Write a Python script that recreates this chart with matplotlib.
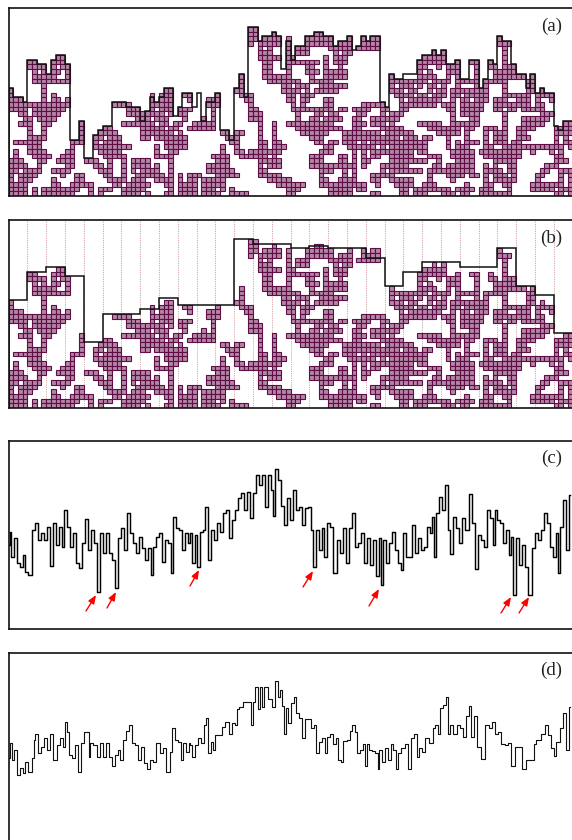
import numpy as np
import matplotlib
matplotlib.use("Agg")
import matplotlib.pyplot as plt

OCCUPIED = {
35:"51-52",
34:"51-52 56 65-66",
33:"51-52 54-57 59 63-68 72 75 77-78 104",
32:"51 53-57 59 63-68 70-72 75-78 104-106",
31:"53 55 59 61-63 68-72 74-78 105",
30:"53-55 59 61-63 69 71-72 90 92 105",
29:"10-11 53-57 59-60 67 69-71 88-92 105",
28:"4-5 9-11 54-55 59-65 67 69-71 87-92 95 98-99 102 105",
27:"4-7 9 11-12 54-55 59 63-64 67 70 87-88 91 93-95 99 102-103 105-107",
26:"5 7 9-10 12 54-55 59 63-65 67-71 87 89 93-95 99 103-107",
25:"5-9 12 49 54-59 64 67-71 81 87-90 93 95 99 103-109 111",
24:"5-12 49 55-61 64-68 81-88 90-93 95-99 101-105 110-111",
23:"7 49 58-59 61-63 66-71 81 83-85 87 89-90 92 95 99 101 105 110-111",
22:"0 7 33-34 48-49 58-61 63 65-69 81-83 85-86 89 91-92 94-101 105 110-111 113",
21:"0 7 9 30 32-34 37-38 44 49-51 59-60 62-64 82-85 87-88 90-92 94-95 97-101 105-110 112-115",
20:"0-2 7 9-10 12 30 32-34 38 42-44 50-51 59-60 62-63 67-68 83 85-91 94 96-97 99-101 103-105 108-110 112 115",
19:"0-12 22-25 30-34 42-44 51 60 62 67-68 75-79 83-90 92-94 96-100 103-110 112-113",
18:"0-3 5-11 25-27 30 32-34 36-38 43 51-52 60-68 70-71 73-76 79-80 83-84 93-94 96-100 103-104 106-107 109-113",
17:"2-3 5-10 25-32 34 36-37 43 51-53 61 65-66 68-69 74-75 79 81-83 94 96-99 105 113-115",
16:"3-4 6-9 27-29 31-33 37 41 43 51-53 61 64-65 67-70 73-74 77-82 94 98-99 105 109-114",
15:"2-4 7-8 15 24-30 32-33 35-36 39-43 53 56 59-68 73-75 77-79 81 87-91 94-99 105 109-113 118-119",
14:"4 7 15 20-21 28-32 34-35 38-43 53 56 61-70 73-74 79-83 89-95 97-98 101-103 105 108-111 116-119",
13:"4 7 15 19-22 28-34 36 45-46 48-49 53 56 62-67 71-78 80-85 91-95 97 101 103-105 108-109 116-119",
12:"4-7 15 18-19 21-23 28-29 31-37 46-48 53 56 64-66 71-82 84-86 88-89 93 97 101 103-105 108-110 116 118",
11:"1-6 13-15 18 20-23 33-37 47-48 53-54 56-57 65-66 68-69 71-73 75 77-88 93 95 97-99 101 103-105 107-108 116 118-119",
10:"4-6 13 18-25 31 33-37 45 48 53-54 56-58 67-68 72-77 79 81-88 93 95-97 101-102 105-117 119",
9:"1 4-7 12-13 19-23 31 34-35 45 48-49 51-57 66-68 73 75 77-85 87-88 94-98 100-108 111 115 117",
8:"1 5-8 11-13 20-24 31-34 43-46 49-54 56 64-66 70-71 73 75 77-78 81-85 89-91 94-98 101-108 116-117",
7:"0-2 6-7 10-13 16-18 21 24 26-29 34 44-46 53-57 64-66 70-71 73 75-76 81-88 91 95-98 103-107 116-118",
6:"0-3 6 12-13 18-19 21 24 26-29 31 34 42-46 53 55-57 64-73 75 79-84 90-91 93-98 101 103 106-107 114-116",
5:"0-1 3-6 9-12 19-21 24 26 28-31 34 42-47 53-54 66-68 71 73 79 81-87 89-98 101-104 106-107 113-114 117-119",
4:"0 2-5 11 14-15 20-21 24 27-32 34 36 38-40 44-48 53-57 66 71 73 77-81 89 93-96 98-99 101 103-105 107 112-113 117 119",
3:"0 2-4 9 14-15 21-24 26-28 31-34 36 38-39 41-45 55-59 66-67 70-73 77-78 81-85 89 94 101 103-107 112 117 119",
2:"0-3 9-10 13-17 22-23 25-29 33-34 36-39 41-45 57-62 66-75 78 82-85 88-90 97 101-102 105-106 111-117 119",
1:"0-3 5 7-14 17 19-21 24-28 34 36-39 41-43 45 47 59-61 68-72 74-75 83-84 86-93 95-98 100-102 106 111-115 117-119",
0:"0-3 5 7-13 17 19 24-27 29 33-34 36-39 41-44 47-50 59-60 68-72 77-78 83-84 86-88 92-94 96-97 100-106 116-117 119",
}

# column skyline of panel (a)
SKYLINE_A = [23,21,21,20,29,29,28,28,26,29,30,30,28,12,12,16,8,8,13,14,15,15,20,20,20,19,19,19,16,18,
             21,20,21,23,23,17,19,22,22,19,22,16,20,20,22,14,14,12,23,26,21,36,36,33,34,34,35,34,27,33,
             29,32,32,34,34,35,35,34,34,32,33,33,34,31,32,34,33,34,34,20,19,26,25,25,26,26,26,29,30,30,
             31,30,31,28,28,29,25,25,29,29,23,25,29,28,34,33,33,28,26,26,23,26,22,23,22,22,15,14,16,16]
# four-column block skyline of panel (b)
SKYLINE_B = [23,29,30,28,14,20,20,21,23.5,22,22,22,36,35,35,34,34.5,34,34,32,26,29,31,31,30,30,34,26,24,16]

# panel (c): (x, y) as read, three stretches
C1_X = [27,30,37,45,54,63,72,80,90,99,108,117,126,135,144,153,162,171,180,189,196,205,214,223,232,241,250,259,268,277,286,295,304,313,322,331,340,350,359,368,377,386,395,404,413,422,431,440,449,455,464,473,482,491,500,509,516,522,531,540,549,558,567]
C1_Y = [345,305,380,325,400,410,375,425,435,300,280,330,310,330,290,408,280,345,290,350,240,290,350,310,400,415,340,268,360,300,340,485,310,370,310,370,390,475,325,295,360,250,310,340,370,320,355,390,355,435,350,320,310,395,330,340,428,260,295,300,360,310,340]
C2_X = [0,9,18,24,33,42,48,57,66,75,84,93,102,111,120,129,138,147,156,165,174,183,192,201,210,219,228,237,246,249,259,268,277,286,295,304,313,322,331,340,349,358,366,372,381,390,399,405,414,423,435,444,453,462,471,480,489,498,507,516,525,534,543,552,564]
C2_Y = [310,400,315,410,305,300,230,390,300,330,280,305,250,240,325,270,240,205,190,240,185,265,190,135,165,135,230,135,180,258,118,150,228,285,205,270,180,240,230,285,235,232,300,410,300,360,295,380,280,290,428,330,370,295,400,295,250,350,340,310,400,325,405,330,438]
C3_X = [0,4,13,22,31,40,49,58,65,74,83,92,101,110,119,128,137,146,155,158,164,173,182,191,200,207,215,224,233,242,251,260,272,281,290,299,308,317,325,333,342,345,354,363,372,381,390,396,404,413,422,431,440,450,459,468,477,486,495,504,513,522,531,535,544,553,562,571]
C3_Y = [325,465,330,400,340,305,360,400,420,310,380,380,285,370,325,360,350,290,310,260,380,250,200,240,165,300,372,260,295,340,265,300,192,280,418,315,330,350,240,265,345,240,270,280,340,300,375,320,495,325,405,345,410,495,355,310,330,300,250,280,350,380,310,428,290,210,360,195]

# panel (d)
D1_X = [27,33,39,45,54,63,72,80,90,99,102,110,119,128,137,146,155,165,174,183,192,195,204,210,219,228,237,246,255,264,267,273,285,294,303,312,321,330,339,348,357,364,373,382,391,400,409,418,427,436,445,454,463,475,484,493,505,514,520,529,538,545,552,561,570]
D1_Y = [340,295,345,315,390,370,385,350,380,340,285,268,325,305,280,315,268,345,300,278,305,230,260,330,340,300,380,295,260,260,335,295,300,335,295,335,295,335,362,330,315,345,285,258,240,295,300,345,305,355,372,345,350,295,325,310,380,320,250,285,290,345,295,320,295]
D2_X = [0,9,18,27,36,45,50,57,66,70,80,90,100,112,121,130,138,141,153,165,180,184,192,200,205,212,218,228,237,252,260,265,273,278,286,292,298,308,315,322,332,340,348,360,368,376,382,391,400,408,412,425,435,442,448,457,462,478,482,490,498,502,515,520,528,532,540,552,560,566,570]
D2_Y = [300,335,300,280,295,240,220,325,290,315,270,270,245,230,268,235,240,192,185,172,172,240,170,125,192,125,185,127,162,185,107,155,135,183,268,190,235,175,155,205,220,278,222,222,250,240,325,290,278,325,275,268,298,278,345,352,288,285,258,240,260,325,315,296,362,296,315,318,325,372,315]
D3_X = [0,12,18,28,36,44,50,56,72,80,88,98,106,114,122,130,140,155,160,172,178,182,195,200,206,214,226,234,244,256,262,270,278,288,296,312,320,332,342,348,360,368,380,388,400,410,422,432,442,458,464,474,492,498,510,516,526,532,546,553,562,571]
D3_Y = [315,352,310,345,298,315,372,325,310,296,372,280,268,335,310,320,278,295,250,240,268,190,180,155,268,240,268,240,250,275,212,183,275,212,305,342,240,250,230,268,260,298,300,295,362,305,305,372,345,345,296,285,268,240,270,310,333,290,250,205,315,185]

# arrows of panel (c): tail and tip, in panel units
ARROW_TAILS = [(77.5,18),(98.5,21),(181.5,43),(294.5,42),(360.5,23),(492.5,16),(510.5,16)]
ARROW_TIPS  = [(87.5,34),(107.5,37),(190.5,59),(304.5,58),(370.5,40),(502.5,32),(520.5,32)]

LABELS = ["(a)", "(b)", "(c)", "(d)"]

W, H = 572, 840
FILL, EDGE = "#b386a5", "#5e0d45"


def panel(top, height=188):
    ax = fig.add_axes([8.5 / W, 1 - (top + height) / H, 564 / W, height / H])
    ax.set_xticks([]); ax.set_yticks([])
    for s in ax.spines.values():
        s.set_linewidth(1.2); s.set_color("#111111")
    ax.patch.set_alpha(0)
    return ax


def cells():
    xs, ys = [], []
    for r, text in OCCUPIED.items():
        for tok in text.split():
            a, _, b = tok.partition("-")
            for c in range(int(a), int(b or a) + 1):
                xs.append(c); ys.append(r)
    return np.array(xs), np.array(ys)


def draw_lattice(ax):
    xs, ys = cells()
    ax.bar(xs, 1, bottom=ys, width=1, align="edge", facecolor=FILL,
           edgecolor=EDGE, linewidth=0.8, zorder=2)
    ax.set_xlim(0, 120); ax.set_ylim(0, 40)


def join(xs_list, ys_list, origins, base):
    x = np.concatenate([np.array(a) / 3 + o - 8.5 for a, o in zip(xs_list, origins)])
    y = np.concatenate([(base - np.array(b)) / 3 for b in ys_list])
    return x, y


fig = plt.figure(figsize=(W / 100, H / 100), dpi=100)

# (a)
ax = panel(8)
draw_lattice(ax)
ax.stairs(SKYLINE_A, np.arange(121), baseline=0, color="#111111", lw=1.1, zorder=3)

# (b)
ax = panel(220)
draw_lattice(ax)
for e in np.arange(4, 120, 4):
    ax.axvline(e, color="#b5656b", lw=0.55, ls=(0, (1.5, 1.5)), alpha=0.75, zorder=1)
ax.stairs(SKYLINE_B, np.arange(31) * 4, baseline=0, color="#111111", lw=1.1, zorder=3)

# (c)
ax = panel(441)
x, y = join([C1_X, C2_X, C3_X], [C1_Y, C2_Y, C3_Y], [0, 190, 380], 597)
ax.step(x, y, where="mid", color="black", lw=1.05, zorder=2)
ax.set_xlim(0, 564); ax.set_ylim(0, 188)
for tail, tip in zip(ARROW_TAILS, ARROW_TIPS):
    ax.annotate("", xy=tip, xytext=tail,
                arrowprops=dict(arrowstyle="-|>,head_length=0.5,head_width=0.2",
                                color="red", lw=1.0, shrinkA=0, shrinkB=0))

# (d)
ax = panel(653)
x, y = join([D1_X, D2_X, D3_X], [D1_Y, D2_Y, D3_Y], [0, 190, 380], 588)
ax.step(x, y, where="mid", color="#111111", lw=0.8, zorder=2)
ax.set_xlim(0, 564); ax.set_ylim(0, 188)

# labels in figure pixels
for lab, yy in zip(LABELS, [26, 238, 458, 670]):
    fig.text(562 / W, 1 - yy / H, lab, ha="right", va="center",
             family="Liberation Serif", fontsize=13.6, color="#222222", zorder=5)

fig.savefig("out.png", dpi=100)
